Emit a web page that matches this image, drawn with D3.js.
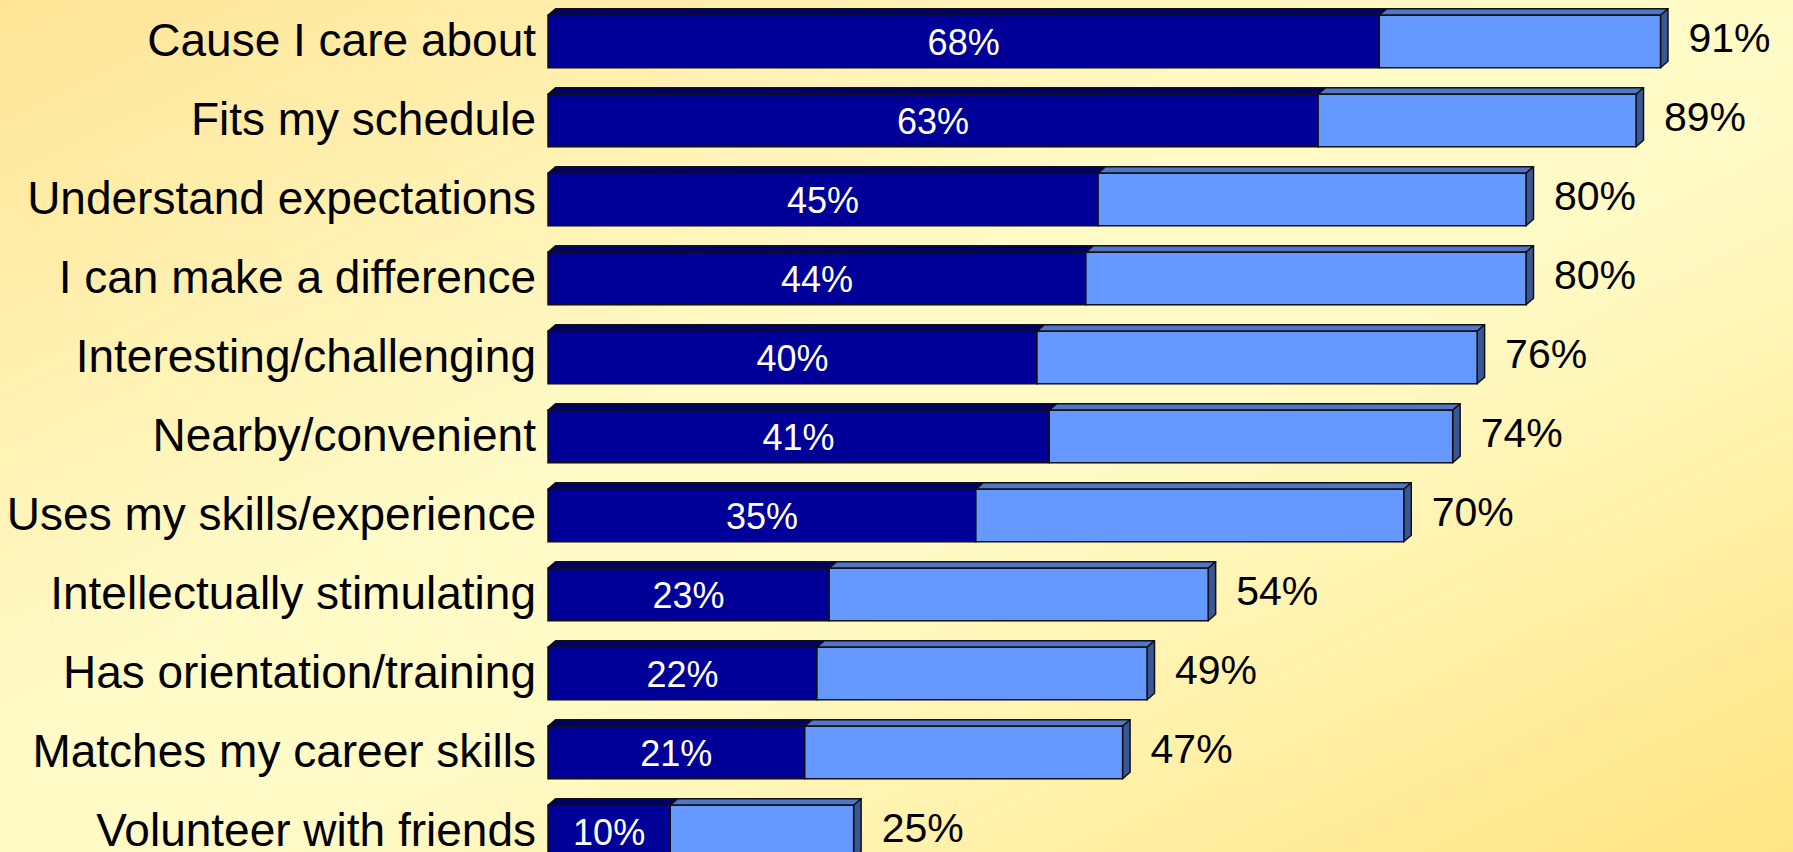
<!DOCTYPE html>
<html>
<head>
<meta charset="utf-8">
<script src="https://cdn.jsdelivr.net/npm/d3@7/dist/d3.min.js"></script>
<style>
  html, body { margin: 0; padding: 0; overflow: hidden; }
  svg { display: block; }
</style>
</head>
<body>
<svg id="chart" width="1793" height="852"></svg>
<script>
// Reasons people give for choosing a volunteer opportunity
const categories = [
  "Cause I care about",
  "Fits my schedule",
  "Understand expectations",
  "I can make a difference",
  "Interesting/challenging",
  "Nearby/convenient",
  "Uses my skills/experience",
  "Intellectually stimulating",
  "Has orientation/training",
  "Matches my career skills",
  "Volunteer with friends"
];
// Share naming it a major reason (dark segment)
const majorReason = [68, 63, 45, 44, 40, 41, 35, 23, 22, 21, 10];
// Share naming it a reason at all (full bar length)
const anyReason = [91, 89, 80, 80, 76, 74, 70, 54, 49, 47, 25];

const W = 1793, H = 852;
const svg = d3.select("#chart");

// Background: diagonal golden wash, lighter through the middle
const defs = svg.append("defs");
const grad = defs.append("linearGradient")
  .attr("id", "bg").attr("x1", 0).attr("y1", 0).attr("x2", 1).attr("y2", 1);
[[0, "#ffe597"], [0.42, "#fffac6"], [0.58, "#fffac6"], [1, "#ffe584"]]
  .forEach(([o, c]) => grad.append("stop").attr("offset", o).attr("stop-color", c));
svg.append("rect").attr("width", W).attr("height", H).attr("fill", "url(#bg)");

const x = d3.scaleLinear().domain([0, 100]).range([548, 1770.5]);
const y = d3.scaleBand().domain(categories).range([2, 871])
  .paddingInner(0.335).paddingOuter(0.1675);

const DX = 7.5, DY = 6.5;          // extrusion offsets of the 3D bars
const STROKE = "#111";
const C = {
  darkFront: "#000099", darkTop: "#00006a",
  lightFront: "#6699ff", lightTop: "#5076c8", lightSide: "#3a5795"
};

const rows = categories.map((c, i) => ({ cat: c, major: majorReason[i], any: anyReason[i] }));

const g = svg.append("g");
const row = g.selectAll("g.row").data(rows).join("g").attr("class", "row");

function topFace(x0, x1, yt) {
  return `M${x0},${yt}L${x0 + DX},${yt - DY}L${x1 + DX},${yt - DY}L${x1},${yt}Z`;
}
function sideFace(x1, yt, yb) {
  return `M${x1},${yt}L${x1 + DX},${yt - DY}L${x1 + DX},${yb - DY}L${x1},${yb}Z`;
}

// Dark segment: 0 -> major reason
row.append("path")
  .attr("d", d => topFace(x(0), x(d.major), y(d.cat)))
  .attr("fill", C.darkTop).attr("stroke", STROKE).attr("stroke-width", 1.5)
  .attr("stroke-linejoin", "round");
row.append("rect")
  .attr("x", x(0)).attr("y", d => y(d.cat))
  .attr("width", d => x(d.major) - x(0)).attr("height", y.bandwidth())
  .attr("fill", C.darkFront).attr("stroke", STROKE).attr("stroke-width", 1.5);

// Light segment: major reason -> any reason
row.append("path")
  .attr("d", d => topFace(x(d.major), x(d.any), y(d.cat)))
  .attr("fill", C.lightTop).attr("stroke", STROKE).attr("stroke-width", 1.5)
  .attr("stroke-linejoin", "round");
row.append("path")
  .attr("d", d => sideFace(x(d.any), y(d.cat), y(d.cat) + y.bandwidth()))
  .attr("fill", C.lightSide).attr("stroke", STROKE).attr("stroke-width", 1.5)
  .attr("stroke-linejoin", "round");
row.append("rect")
  .attr("x", d => x(d.major)).attr("y", d => y(d.cat))
  .attr("width", d => x(d.any) - x(d.major)).attr("height", y.bandwidth())
  .attr("fill", C.lightFront).attr("stroke", STROKE).attr("stroke-width", 1.5);

// Value inside the dark segment
row.append("text")
  .attr("x", d => (x(0) + x(d.major)) / 2)
  .attr("y", d => y(d.cat) + y.bandwidth() / 2 + 13)
  .attr("text-anchor", "middle")
  .attr("fill", "#ffffff")
  .style("font-family", "'Liberation Sans', Arial, sans-serif")
  .style("font-size", "36px")
  .text(d => d.major + "%");

// Total value past the bar end
row.append("text")
  .attr("x", d => x(d.any) + 28)
  .attr("y", d => y(d.cat) + y.bandwidth() / 2 + 10.5)
  .attr("fill", "#000000")
  .style("font-family", "'Liberation Sans', Arial, sans-serif")
  .style("font-size", "41px")
  .text(d => d.any + "%");

// Category axis
const axis = svg.append("g")
  .attr("transform", `translate(${x(0)},0)`)
  .call(d3.axisLeft(y).tickSize(0).tickPadding(12));
axis.select(".domain").remove();
axis.selectAll("text")
  .attr("fill", "#000000")
  .style("font-family", "'Liberation Sans', Arial, sans-serif")
  .style("font-size", "46px");
</script>
</body>
</html>
